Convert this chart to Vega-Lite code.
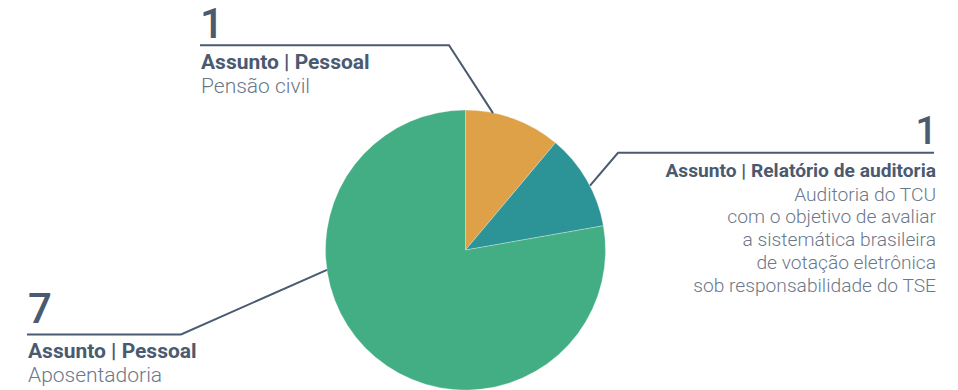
{
  "$schema": "https://vega.github.io/schema/vega-lite/v6.json",
  "width": 958,
  "height": 390,
  "autosize": {"type": "fit", "contains": "padding"},
  "padding": 0,
  "background": "white",
  "config": {"view": {"stroke": null}, "font": "Roboto"},
  "datasets": {
    "fatias": [
      {"categoria": "Pensão civil", "valor": 1, "ordem": 1},
      {"categoria": "Relatório de auditoria", "valor": 1, "ordem": 2},
      {"categoria": "Aposentadoria", "valor": 7, "ordem": 3}
    ],
    "guias": [
      {"grupo": "a", "seq": 1, "px": 200, "py": 45.5},
      {"grupo": "a", "seq": 2, "px": 449, "py": 45.5},
      {"grupo": "a", "seq": 3, "px": 493, "py": 114},
      {"grupo": "b", "seq": 1, "px": 934, "py": 154},
      {"grupo": "b", "seq": 2, "px": 618, "py": 154},
      {"grupo": "b", "seq": 3, "px": 590, "py": 187},
      {"grupo": "c", "seq": 1, "px": 27, "py": 337},
      {"grupo": "c", "seq": 2, "px": 181, "py": 337},
      {"grupo": "c", "seq": 3, "px": 327, "py": 272}
    ],
    "rotulos": [
      {"bloco": "a", "lado": "esquerda", "lx": 200, "ly": 45.5, "num": "1", "titulo": "Assunto | Pessoal", "desc": "Pensão civil"},
      {"bloco": "b", "lado": "direita", "lx": 936, "ly": 154, "num": "1", "titulo": "Assunto | Relatório de auditoria", "desc": "Auditoria do TCU\ncom o objetivo de avaliar\na sistemática brasileira\nde votação eletrônica\nsob responsabilidade do TSE"},
      {"bloco": "c", "lado": "esquerda", "lx": 27, "ly": 337, "num": "7", "titulo": "Assunto | Pessoal", "desc": "Aposentadoria"}
    ]
  },
  "layer": [
    {
      "data": {"name": "fatias"},
      "mark": {"type": "arc", "outerRadius": 140, "stroke": "white", "strokeWidth": 0.3},
      "encoding": {
        "x": {"datum": 465.5, "type": "quantitative", "scale": {"domain": [0, 958], "nice": false, "zero": false}, "axis": null},
        "y": {"datum": 252, "type": "quantitative", "scale": {"domain": [0, 390], "nice": false, "zero": false, "reverse": true}, "axis": null},
        "theta": {"field": "valor", "type": "quantitative", "stack": true},
        "order": {"field": "ordem"},
        "color": {"field": "categoria", "type": "nominal", "legend": null,
          "scale": {"domain": ["Pensão civil", "Relatório de auditoria", "Aposentadoria"], "range": ["#DFA148", "#2C9396", "#43AD83"]}}
      }
    },
    {
      "data": {"name": "guias"},
      "mark": {"type": "line", "color": "#4A5A70", "strokeWidth": 2, "interpolate": "linear"},
      "encoding": {
        "x": {"field": "px", "type": "quantitative"},
        "y": {"field": "py", "type": "quantitative"},
        "detail": {"field": "grupo"},
        "order": {"field": "seq"}
      }
    },
    {
      "data": {"name": "rotulos"},
      "transform": [{"filter": "datum.bloco == 'a'"}],
      "mark": {"type": "text", "align": "left", "baseline": "alphabetic", "fontSize": 42, "fontWeight": 500, "color": "#4A5A70", "dy": -7.3, "dx": 0},
      "encoding": {"x": {"field": "lx", "type": "quantitative"}, "y": {"field": "ly", "type": "quantitative"}, "text": {"field": "num"}}
    },
    {
      "data": {"name": "rotulos"},
      "transform": [{"filter": "datum.bloco == 'c'"}],
      "mark": {"type": "text", "align": "left", "baseline": "alphabetic", "fontSize": 42, "fontWeight": 500, "color": "#4A5A70", "dy": -11.5, "dx": 1},
      "encoding": {"x": {"field": "lx", "type": "quantitative"}, "y": {"field": "ly", "type": "quantitative"}, "text": {"field": "num"}}
    },
    {
      "data": {"name": "rotulos"},
      "transform": [{"filter": "datum.lado == 'direita'"}],
      "mark": {"type": "text", "align": "right", "baseline": "alphabetic", "fontSize": 38, "fontWeight": 500, "color": "#4A5A70", "dy": -9, "dx": 1},
      "encoding": {"x": {"field": "lx", "type": "quantitative"}, "y": {"field": "ly", "type": "quantitative"}, "text": {"field": "num"}}
    },
    {
      "data": {"name": "rotulos"},
      "transform": [{"filter": "datum.lado == 'esquerda'"}],
      "mark": {"type": "text", "align": "left", "baseline": "alphabetic", "fontSize": 21, "fontWeight": 700, "color": "#4A5A70", "dy": 23.5, "dx": 1},
      "encoding": {"x": {"field": "lx", "type": "quantitative"}, "y": {"field": "ly", "type": "quantitative"}, "text": {"field": "titulo"}}
    },
    {
      "data": {"name": "rotulos"},
      "transform": [{"filter": "datum.lado == 'direita'"}],
      "mark": {"type": "text", "align": "right", "baseline": "alphabetic", "fontSize": 19.2, "fontWeight": 700, "color": "#4A5A70", "dy": 24},
      "encoding": {"x": {"field": "lx", "type": "quantitative"}, "y": {"field": "ly", "type": "quantitative"}, "text": {"field": "titulo"}}
    },
    {
      "data": {"name": "rotulos"},
      "transform": [{"filter": "datum.lado == 'esquerda'"}],
      "mark": {"type": "text", "align": "left", "baseline": "alphabetic", "fontSize": 21, "fontWeight": 300, "color": "#6B7889", "dy": 48, "dx": 1, "lineBreak": "\n", "lineHeight": 24},
      "encoding": {"x": {"field": "lx", "type": "quantitative"}, "y": {"field": "ly", "type": "quantitative"}, "text": {"field": "desc"}}
    },
    {
      "data": {"name": "rotulos"},
      "transform": [{"filter": "datum.lado == 'direita'"}],
      "mark": {"type": "text", "align": "right", "baseline": "alphabetic", "fontSize": 19.2, "fontWeight": 300, "color": "#6B7889", "dy": 47.7, "lineBreak": "\n", "lineHeight": 22.75},
      "encoding": {"x": {"field": "lx", "type": "quantitative"}, "y": {"field": "ly", "type": "quantitative"}, "text": {"field": "desc"}}
    }
  ]
}
